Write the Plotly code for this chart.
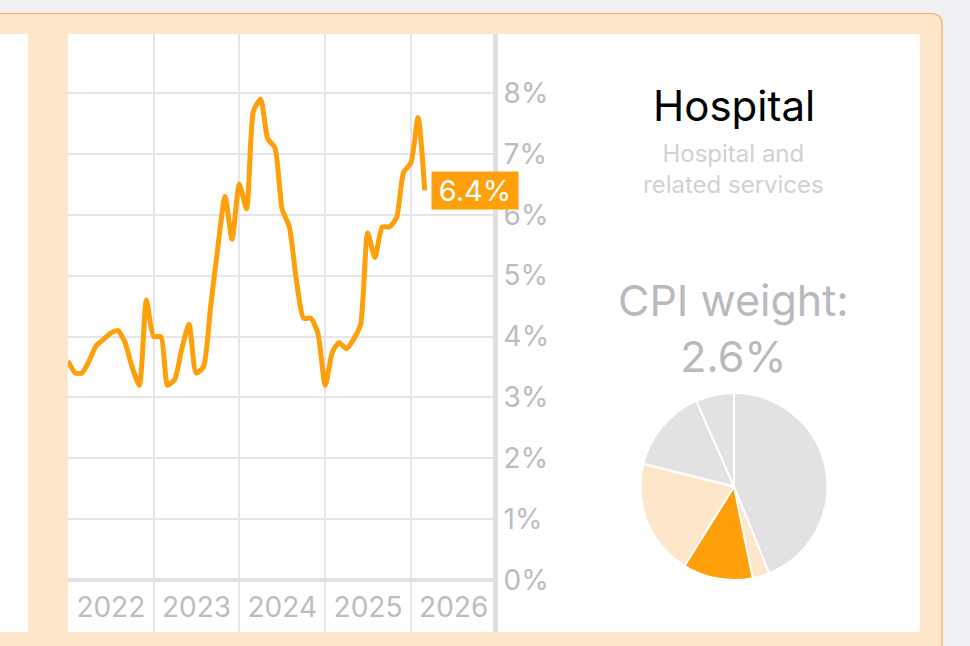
import plotly.graph_objects as go

# ---------------- data ----------------
months = [
    "2022-01-01", "2022-02-01", "2022-03-01", "2022-04-01", "2022-05-01", "2022-06-01",
    "2022-07-01", "2022-08-01", "2022-09-01", "2022-10-01", "2022-11-01", "2022-12-01",
    "2023-01-01", "2023-02-01", "2023-03-01", "2023-04-01", "2023-05-01", "2023-06-01",
    "2023-07-01", "2023-08-01", "2023-09-01", "2023-10-01", "2023-11-01", "2023-12-01",
    "2024-01-01", "2024-02-01", "2024-03-01", "2024-04-01", "2024-05-01", "2024-06-01",
    "2024-07-01", "2024-08-01", "2024-09-01", "2024-10-01", "2024-11-01", "2024-12-01",
    "2025-01-01", "2025-02-01", "2025-03-01", "2025-04-01", "2025-05-01", "2025-06-01",
    "2025-07-01", "2025-08-01", "2025-09-01", "2025-10-01", "2025-11-01", "2025-12-01",
    "2026-01-01", "2026-02-01", "2026-03-01",
]
inflation = [
    3.6, 3.4, 3.4, 3.6, 3.85, 3.95, 4.05, 4.1, 3.9, 3.5, 3.2, 4.6,
    4.0, 4.0, 3.2, 3.3, 3.8, 4.2, 3.4, 3.5, 4.5, 5.45, 6.3, 5.6,
    6.5, 6.1, 7.7, 7.9, 7.25, 7.1, 6.1, 5.8, 4.9, 4.3, 4.3, 4.05,
    3.2, 3.75, 3.9, 3.8, 3.95, 4.2, 5.7, 5.3, 5.8, 5.8, 5.95, 6.7,
    6.85, 7.6, 6.4,
]
y_ticks = [0, 1, 2, 3, 4, 5, 6, 7, 8]
y_tick_labels = ["0%", "1%", "2%", "3%", "4%", "5%", "6%", "7%", "8%"]

pie_labels = ["A", "B", "C", "D", "E", "F"]
pie_values = [43.9, 2.9, 12.1, 20.0, 14.5, 6.6]

title_text = "Hospital"
subtitle_text = "Hospital and<br>related services"
weight_text = "CPI weight:<br>2.6%"

# ---------------- styles ----------------
W, H = 970, 646
ORANGE = "#ff9f0a"
PEACH = "#fee6cb"
GREY_SLICE = "#e2e2e5"
pie_colors = [GREY_SLICE, PEACH, ORANGE, PEACH, GREY_SLICE, GREY_SLICE]
FONT = "Inter, Roboto, sans-serif"


def X(px):
    return px / W


def Y(py):
    return 1 - py / H


fig = go.Figure()

fig.add_trace(go.Scatter(
    x=months, y=inflation, mode="lines",
    line=dict(color=ORANGE, width=5, shape="spline", smoothing=0.6),
    hoverinfo="skip", showlegend=False,
))

fig.add_trace(go.Pie(
    labels=pie_labels, values=pie_values, sort=False, direction="clockwise",
    rotation=0, marker=dict(colors=pie_colors, line=dict(color="white", width=2)),
    textinfo="none", hoverinfo="skip", showlegend=False,
    domain=dict(x=[X(640.5), X(827.5)], y=[Y(580), Y(393)]),
))

shapes = [
    # card
    dict(type="path", xref="paper", yref="paper",
         path=(f"M {X(-2)},{Y(13.5)} L {X(931)},{Y(13.5)} "
               f"Q {X(942)},{Y(13.5)} {X(942)},{Y(24.5)} "
               f"L {X(942)},{Y(660)} L {X(-2)},{Y(660)} Z"),
         fillcolor=PEACH, line=dict(color="#f9ad4a", width=1.2), layer="below"),
    # white panels
    dict(type="rect", xref="paper", yref="paper", x0=X(-2), x1=X(28), y0=Y(632), y1=Y(34),
         fillcolor="white", line=dict(width=0), layer="below"),
    dict(type="rect", xref="paper", yref="paper", x0=X(68), x1=X(920), y0=Y(632), y1=Y(34),
         fillcolor="white", line=dict(width=0), layer="below"),
]

annotations = [
    dict(text=title_text, x=X(733.5), y=Y(105), xref="paper", yref="paper",
         xanchor="center", yanchor="middle", showarrow=False,
         font=dict(family=FONT, size=42, color="#000000")),
    dict(text=subtitle_text, x=X(733.5), y=Y(169), xref="paper", yref="paper",
         xanchor="center", yanchor="middle", showarrow=False,
         font=dict(family=FONT, size=24, color="#d1d1d6")),
    dict(text=weight_text, x=X(733.5), y=Y(328), xref="paper", yref="paper",
         xanchor="center", yanchor="middle", showarrow=False,
         font=dict(family=FONT, size=43, color="#b9b9be")),
    dict(text=f"{inflation[-1]:.1f}%", x=months[-1], y=inflation[-1], xref="x", yref="y",
         xanchor="left", yanchor="middle", xshift=6, showarrow=False,
         bgcolor=ORANGE, borderpad=5, width=76, height=27,
         font=dict(family=FONT, size=29, color="white")),
]

fig.update_layout(
    width=W, height=H,
    margin=dict(l=0, r=0, t=0, b=0),
    paper_bgcolor="#eef0f4",
    plot_bgcolor="white",
    shapes=shapes,
    annotations=annotations,
    xaxis=dict(
        type="date", domain=[X(68), X(493)],
        range=["2022-01-01", "2026-12-17"],
        dtick="M12", tick0="2022-01-01", tickformat="%Y",
        ticklabelmode="period", ticklabelposition="inside", ticklabelstandoff=6,
        ticks="", showgrid=True, gridcolor="#e6e6ea", gridwidth=1.5,
        showline=False, zeroline=False, automargin=False, fixedrange=True,
        tickfont=dict(family=FONT, size=28, color="#bcbcc1"),
    ),
    yaxis=dict(
        domain=[Y(632), Y(34)], range=[-0.854, 8.97],
        side="right", tickvals=y_ticks, ticktext=y_tick_labels,
        ticks="", showgrid=True, gridcolor="#e6e6ea", gridwidth=1.5,
        zeroline=True, zerolinecolor="#e2e2e6", zerolinewidth=4,
        showline=True, linecolor="#e0e0e4", linewidth=5,
        automargin=False, fixedrange=True,
        tickfont=dict(family=FONT, size=28, color="#bcbcc1"),
    ),
)

fig.write_html("out.html", config={"displayModeBar": False},
               post_script="document.body.style.margin='0';")
